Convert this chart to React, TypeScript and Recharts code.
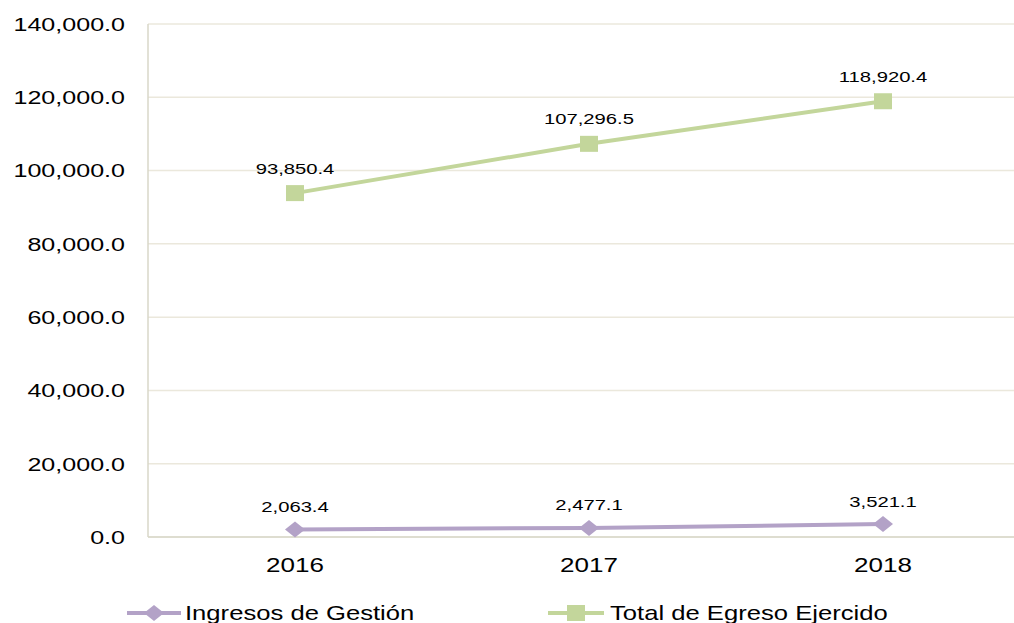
import React from "react";
import { LineChart, Line, XAxis, YAxis, CartesianGrid, Legend, LabelList } from "recharts";

// values in millions of pesos
const years = ["2016", "2017", "2018"];
const ingresosGestion = [2063.4, 2477.1, 3521.1];
const totalEgresoEjercido = [93850.4, 107296.5, 118920.4];
const yTicks = [0, 20000, 40000, 60000, 80000, 100000, 120000, 140000];

const PURPLE = "#b3a2c7";
const GREEN = "#c3d69b";
const GRID = "#ebe8dc";
const AXIS = "#d9d7c8";
const FONT = '"Liberation Sans", Arial, sans-serif';

const data = years.map((year, i) => ({
  year,
  ingresos: ingresosGestion[i],
  total: totalEgresoEjercido[i],
}));

const fmt = (v: number) =>
  v.toLocaleString("en-US", { minimumFractionDigits: 1, maximumFractionDigits: 1 });

const Diamond = (p: any) => {
  const { cx, cy } = p;
  if (cx == null || cy == null) return null;
  return (
    <polygon
      key={`d-${p.index}`}
      points={`${cx - 10},${cy} ${cx},${cy - 8} ${cx + 10},${cy} ${cx},${cy + 8}`}
      fill={PURPLE}
    />
  );
};

const Square = (p: any) => {
  const { cx, cy } = p;
  if (cx == null || cy == null) return null;
  return <rect key={`s-${p.index}`} x={cx - 9} y={cy - 8} width={18} height={16} fill={GREEN} />;
};

const YTick = (p: any) => (
  <text
    transform={`translate(${p.x},${p.y}) scale(1.32,1)`}
    textAnchor="end"
    dy="0.36em"
    fontSize={19}
    fontFamily={FONT}
    fill="#000"
  >
    {fmt(p.payload.value)}
  </text>
);

const XTick = (p: any) => (
  <text
    transform={`translate(${p.x},${p.y}) scale(1.24,1)`}
    textAnchor="middle"
    dy="0.36em"
    fontSize={21}
    fontFamily={FONT}
    fill="#000"
  >
    {p.payload.value}
  </text>
);

const makeLabel = (lift: number) => (p: any) => (
  <text
    key={`l-${p.index}-${lift}`}
    transform={`translate(${p.x},${p.y - lift}) scale(1.35,1)`}
    textAnchor="middle"
    dy="0.36em"
    fontSize={15}
    fontFamily={FONT}
    fill="#000"
  >
    {fmt(p.value)}
  </text>
);

const legendText: React.CSSProperties = {
  position: "absolute",
  top: 0,
  fontSize: 21,
  lineHeight: "26px",
  fontFamily: FONT,
  color: "#000",
  transform: "scaleX(1.22)",
  transformOrigin: "left center",
  whiteSpace: "nowrap",
};

const renderLegend = () => (
  <div style={{ position: "relative", height: 26 }}>
    <svg style={{ position: "absolute", left: 127, top: 0 }} width={54} height={26}>
      <line x1={0} y1={13} x2={54} y2={13} stroke={PURPLE} strokeWidth={4} />
      <polygon points="17,13 27,5 37,13 27,21" fill={PURPLE} />
    </svg>
    <span style={{ ...legendText, left: 185 }}>Ingresos de Gestión</span>
    <svg style={{ position: "absolute", left: 548, top: 0 }} width={56} height={26}>
      <line x1={0} y1={13} x2={56} y2={13} stroke={GREEN} strokeWidth={4} />
      <rect x={19} y={5} width={18} height={16} fill={GREEN} />
    </svg>
    <span style={{ ...legendText, left: 610 }}>Total de Egreso Ejercido</span>
  </div>
);

export default function App() {
  return (
    <div
      style={{
        position: "absolute",
        left: 0,
        top: 0,
        width: 1014,
        height: 623,
        overflow: "hidden",
        background: "#fff",
      }}
    >
      <LineChart
        width={1040}
        height={623}
        data={data}
        margin={{ top: 24, right: 10, bottom: 56, left: 0 }}
      >
        <CartesianGrid vertical={false} stroke={GRID} strokeWidth={1.5} />
        <XAxis
          dataKey="year"
          stroke={AXIS}
          strokeWidth={1.5}
          tickLine={false}
          tickSize={0}
          tickMargin={27}
          height={30}
          padding={{ left: 147, right: 147 }}
          tick={<XTick />}
        />
        <YAxis
          domain={[0, 140000]}
          ticks={yTicks}
          width={148}
          stroke={AXIS}
          strokeWidth={1.5}
          tickLine={false}
          tickSize={0}
          tickMargin={23}
          tick={<YTick />}
        />
        <Legend
          layout="horizontal"
          verticalAlign="middle"
          align="center"
          wrapperStyle={{ top: 600, left: 0, width: 1014 }}
          content={renderLegend}
        />
        <Line
          dataKey="ingresos"
          name="Ingresos de Gestión"
          stroke={PURPLE}
          strokeWidth={4}
          dot={<Diamond />}
          activeDot={false}
          isAnimationActive={false}
        >
          <LabelList dataKey="ingresos" content={makeLabel(23)} />
        </Line>
        <Line
          dataKey="total"
          name="Total de Egreso Ejercido"
          stroke={GREEN}
          strokeWidth={4}
          dot={<Square />}
          activeDot={false}
          isAnimationActive={false}
        >
          <LabelList dataKey="total" content={makeLabel(25)} />
        </Line>
      </LineChart>
    </div>
  );
}
